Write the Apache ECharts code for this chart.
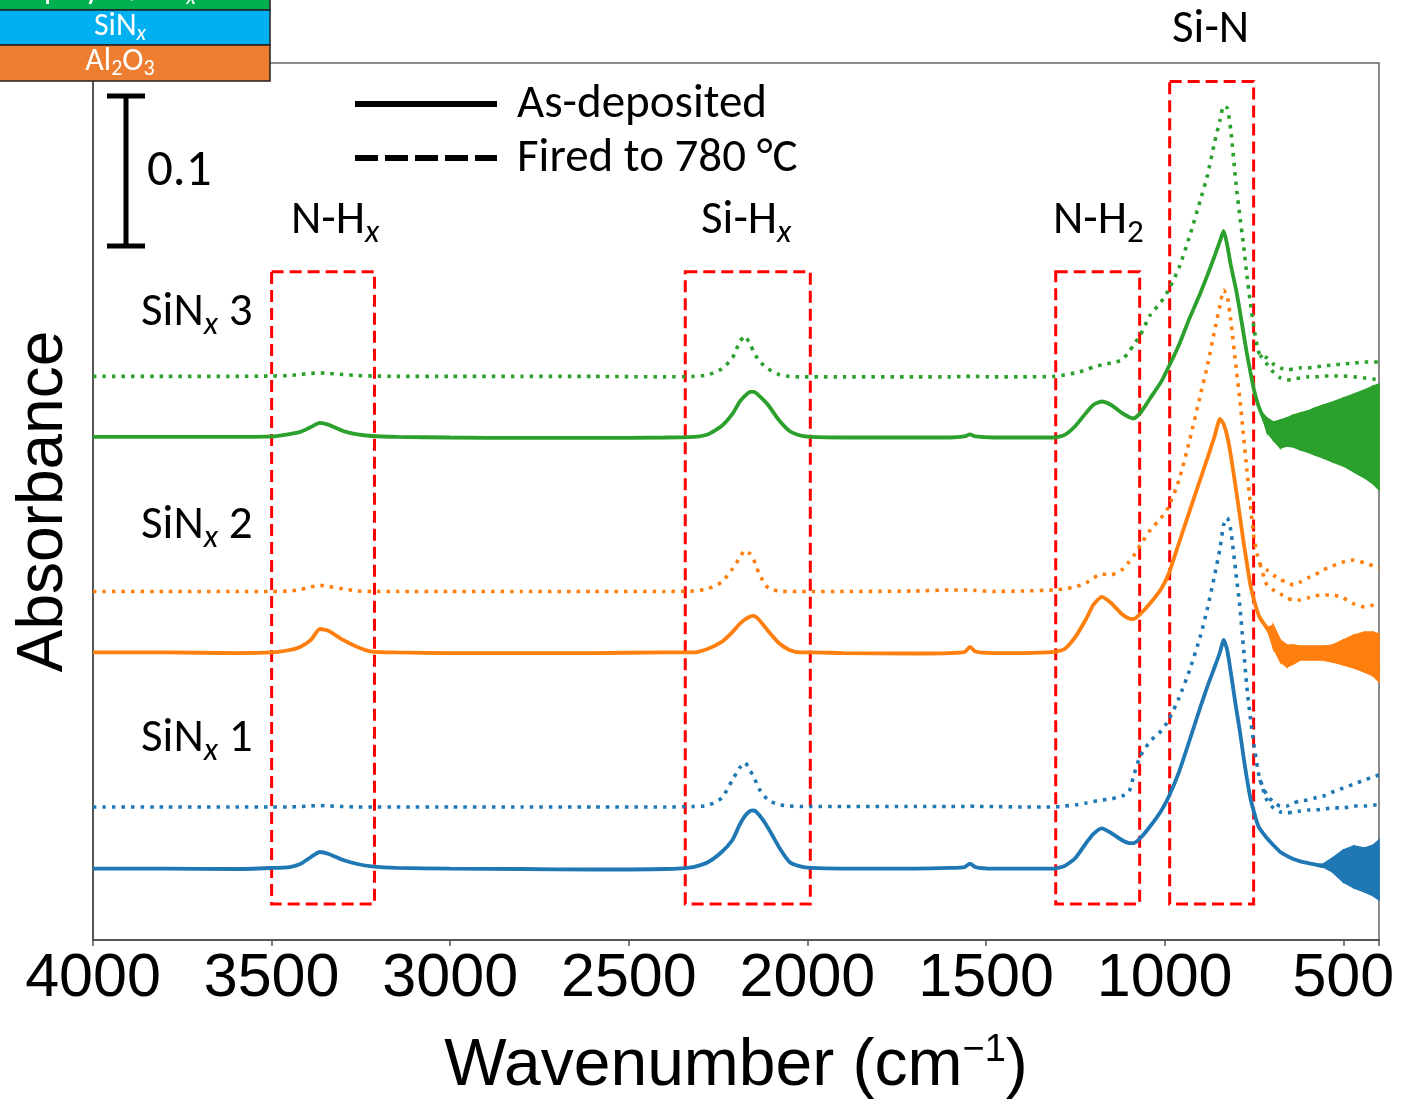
<!DOCTYPE html>
<html>
<head>
<meta charset="utf-8">
<script src="https://cdn.jsdelivr.net/npm/echarts@6.0.0/dist/echarts.min.js"></script>
<style>
  html, body { margin: 0; padding: 0; background: #fff; }
  #chart { width: 1409px; height: 1110px; }
</style>
</head>
<body>
<div id="chart"></div>
<script>
// wavenumber grid (cm-1), shared by all six spectra
var wavenumbers = [4000, 3800, 3600, 3500, 3450, 3420, 3390, 3365, 3340, 3300,
  3260, 3220, 3150, 3000, 2800, 2600, 2400, 2320, 2280, 2240,
  2210, 2190, 2175, 2160, 2150, 2135, 2110, 2080, 2050, 2020,
  1990, 1900, 1700, 1600, 1560, 1545, 1530, 1480, 1400, 1310,
  1280, 1250, 1220, 1200, 1176, 1150, 1120, 1100, 1087, 1068,
  1040, 1010, 989, 960, 930, 900, 880, 860, 845, 835,
  825, 815, 800, 790, 780, 770, 760, 750, 740, 733,
  714, 696, 676, 658, 640, 620, 600, 580, 556, 530,
  500, 470, 440, 416, 400];

// SiNx 1 (blue)
var sin1AsDep = [0.0470, 0.0470, 0.0467, 0.0474, 0.0480, 0.0500, 0.0546, 0.0579, 0.0566, 0.0526,
  0.0500, 0.0484, 0.0474, 0.0470, 0.0467, 0.0464, 0.0467, 0.0480, 0.0510, 0.0579,
  0.0658, 0.0757, 0.0816, 0.0849, 0.0852, 0.0822, 0.0737, 0.0612, 0.0513, 0.0484,
  0.0474, 0.0470, 0.0470, 0.0474, 0.0480, 0.0503, 0.0480, 0.0470, 0.0470, 0.0470,
  0.0487, 0.0540, 0.0638, 0.0697, 0.0734, 0.0704, 0.0658, 0.0638, 0.0638, 0.0671,
  0.0750, 0.0849, 0.0941, 0.1105, 0.1316, 0.1533, 0.1671, 0.1796, 0.1895, 0.1974,
  0.1908, 0.1763, 0.1527, 0.1382, 0.1217, 0.1066, 0.0934, 0.0842, 0.0763, 0.0730,
  0.0671, 0.0625, 0.0579, 0.0553, 0.0533, 0.0517, 0.0507, 0.0497, 0.0487, 0.0487,
  0.0487, 0.0474, 0.0461, 0.0447, 0.0428];
var sin1Fired = [0.0875, 0.0875, 0.0875, 0.0875, 0.0875, 0.0878, 0.0882, 0.0885, 0.0882, 0.0878,
  0.0875, 0.0875, 0.0875, 0.0875, 0.0875, 0.0875, 0.0875, 0.0878, 0.0885, 0.0934,
  0.1053, 0.1132, 0.1168, 0.1112, 0.1073, 0.0993, 0.0921, 0.0891, 0.0882, 0.0878,
  0.0878, 0.0878, 0.0878, 0.0878, 0.0878, 0.0882, 0.0878, 0.0878, 0.0875, 0.0875,
  0.0882, 0.0888, 0.0901, 0.0911, 0.0921, 0.0928, 0.0947, 0.0974, 0.1079, 0.1211,
  0.1309, 0.1375, 0.1447, 0.1592, 0.1777, 0.2000, 0.2185, 0.2402, 0.2579, 0.2731,
  0.2777, 0.2698, 0.2402, 0.2204, 0.1941, 0.1665, 0.1461, 0.1283, 0.1132, 0.1053,
  0.0954, 0.0908, 0.0882, 0.0882, 0.0901, 0.0915, 0.0921, 0.0934, 0.0947, 0.0974,
  0.1000, 0.1026, 0.1053, 0.1073, 0.1086];

// SiNx 2 (orange)
var sin2AsDep = [0.1892, 0.1892, 0.1888, 0.1892, 0.1908, 0.1928, 0.1974, 0.2046, 0.2033, 0.1974,
  0.1928, 0.1898, 0.1892, 0.1888, 0.1888, 0.1888, 0.1892, 0.1892, 0.1915, 0.1961,
  0.2026, 0.2079, 0.2109, 0.2129, 0.2132, 0.2105, 0.2033, 0.1954, 0.1908, 0.1892,
  0.1892, 0.1888, 0.1885, 0.1888, 0.1895, 0.1928, 0.1898, 0.1888, 0.1888, 0.1895,
  0.1915, 0.1994, 0.2112, 0.2204, 0.2257, 0.2217, 0.2145, 0.2115, 0.2112, 0.2145,
  0.2217, 0.2310, 0.2408, 0.2612, 0.2823, 0.3033, 0.3172, 0.3316, 0.3428, 0.3395,
  0.3316, 0.3191, 0.2961, 0.2797, 0.2632, 0.2481, 0.2336, 0.2237, 0.2158, 0.2119,
  0.2053, 0.1987, 0.1935, 0.1908, 0.1895, 0.1888, 0.1888, 0.1895, 0.1902, 0.1908,
  0.1908, 0.1895, 0.1875, 0.1842, 0.1777];
var sin2Fired = [0.2293, 0.2293, 0.2293, 0.2293, 0.2296, 0.2306, 0.2323, 0.2333, 0.2326, 0.2310,
  0.2296, 0.2293, 0.2293, 0.2293, 0.2293, 0.2293, 0.2293, 0.2296, 0.2310, 0.2355,
  0.2441, 0.2513, 0.2563, 0.2539, 0.2500, 0.2408, 0.2316, 0.2296, 0.2293, 0.2293,
  0.2293, 0.2293, 0.2296, 0.2303, 0.2303, 0.2303, 0.2300, 0.2293, 0.2296, 0.2303,
  0.2310, 0.2323, 0.2349, 0.2382, 0.2408, 0.2402, 0.2435, 0.2487, 0.2527, 0.2599,
  0.2698, 0.2777, 0.2849, 0.3026, 0.3289, 0.3586, 0.3783, 0.4013, 0.4178, 0.4276,
  0.4237, 0.4079, 0.3764, 0.3566, 0.3336, 0.3093, 0.2862, 0.2645, 0.2527, 0.2474,
  0.2435, 0.2402, 0.2369, 0.2356, 0.2336, 0.2356, 0.2382, 0.2402, 0.2435, 0.2461,
  0.2487, 0.2500, 0.2481, 0.2461, 0.2448];

// SiNx 3 (green)
var sin3AsDep = [0.3310, 0.3310, 0.3310, 0.3313, 0.3329, 0.3343, 0.3375, 0.3402, 0.3389, 0.3349,
  0.3326, 0.3316, 0.3310, 0.3306, 0.3303, 0.3303, 0.3306, 0.3310, 0.3326, 0.3382,
  0.3461, 0.3540, 0.3580, 0.3606, 0.3606, 0.3580, 0.3520, 0.3421, 0.3349, 0.3319,
  0.3310, 0.3306, 0.3306, 0.3306, 0.3313, 0.3326, 0.3313, 0.3306, 0.3306, 0.3306,
  0.3323, 0.3382, 0.3468, 0.3520, 0.3543, 0.3520, 0.3468, 0.3441, 0.3431, 0.3468,
  0.3566, 0.3672, 0.3770, 0.3915, 0.4093, 0.4257, 0.4376, 0.4501, 0.4599, 0.4665,
  0.4573, 0.4442, 0.4277, 0.4145, 0.4001, 0.3862, 0.3737, 0.3619, 0.3533, 0.3487,
  0.3389, 0.3349, 0.3329, 0.3343, 0.3349, 0.3349, 0.3349, 0.3349, 0.3349, 0.3343,
  0.3343, 0.3336, 0.3329, 0.3323, 0.3310];
var sin3Fired = [0.3708, 0.3708, 0.3708, 0.3711, 0.3714, 0.3721, 0.3728, 0.3731, 0.3728, 0.3721,
  0.3714, 0.3711, 0.3708, 0.3708, 0.3708, 0.3708, 0.3705, 0.3708, 0.3718, 0.3757,
  0.3829, 0.3934, 0.3974, 0.3915, 0.3869, 0.3809, 0.3757, 0.3721, 0.3708, 0.3705,
  0.3705, 0.3705, 0.3705, 0.3705, 0.3708, 0.3708, 0.3708, 0.3705, 0.3705, 0.3708,
  0.3718, 0.3731, 0.3751, 0.3770, 0.3783, 0.3797, 0.3816, 0.3869, 0.3915, 0.3981,
  0.4113, 0.4198, 0.4277, 0.4422, 0.4632, 0.4869, 0.5033, 0.5251, 0.5396, 0.5488,
  0.5474, 0.5330, 0.4968, 0.4770, 0.4586, 0.4376, 0.4191, 0.4027, 0.3895, 0.3849,
  0.3830, 0.3790, 0.3764, 0.3751, 0.3757, 0.3764, 0.3764, 0.3770, 0.3777, 0.3783,
  0.3790, 0.3796, 0.3803, 0.3803, 0.3803];

// low-wavenumber noisy tail: envelopes of the as-deposited noise, second strand of the fired traces
var tailWn = [733, 714, 696, 676, 658, 640, 620, 600, 580, 556, 530, 500, 470, 440, 416, 400];
var sin1NoiseHi = [0.0730, 0.0671, 0.0625, 0.0579, 0.0553, 0.0533, 0.0517, 0.0507, 0.0497, 0.0500, 0.0540, 0.0592, 0.0619, 0.0605, 0.0625, 0.0658];
var sin1NoiseLo = [0.0730, 0.0671, 0.0625, 0.0579, 0.0553, 0.0533, 0.0517, 0.0507, 0.0497, 0.0480, 0.0447, 0.0382, 0.0342, 0.0316, 0.0290, 0.0263];
var sin2NoiseHi = [0.2119, 0.2053, 0.2072, 0.1974, 0.1941, 0.1941, 0.1934, 0.1934, 0.1934, 0.1934, 0.1941, 0.1974, 0.2007, 0.2026, 0.2026, 0.2013];
var sin2NoiseLo = [0.2119, 0.2053, 0.1921, 0.1829, 0.1796, 0.1816, 0.1842, 0.1842, 0.1842, 0.1842, 0.1829, 0.1810, 0.1790, 0.1763, 0.1737, 0.1698];
var sin3NoiseHi = [0.3487, 0.3435, 0.3408, 0.3421, 0.3435, 0.3454, 0.3468, 0.3481, 0.3500, 0.3520, 0.3540, 0.3566, 0.3592, 0.3619, 0.3645, 0.3658];
var sin3NoiseLo = [0.3487, 0.3343, 0.3289, 0.3237, 0.3250, 0.3244, 0.3224, 0.3211, 0.3191, 0.3171, 0.3145, 0.3119, 0.3079, 0.3040, 0.3000, 0.2961];
var sin1FiredB = [0.1053, 0.0921, 0.0869, 0.0842, 0.0836, 0.0842, 0.0849, 0.0855, 0.0855, 0.0862, 0.0869, 0.0869, 0.0882, 0.0882, 0.0888, 0.0888];
var sin2FiredB = [0.2474, 0.2336, 0.2303, 0.2277, 0.2250, 0.2237, 0.2237, 0.2250, 0.2264, 0.2270, 0.2270, 0.2250, 0.2211, 0.2191, 0.2204, 0.2211];
var sin3FiredB = [0.3849, 0.3790, 0.3737, 0.3698, 0.3684, 0.3691, 0.3698, 0.3705, 0.3705, 0.3711, 0.3711, 0.3711, 0.3705, 0.3698, 0.3691, 0.3684];

// x tick labels
var tickLabels = [4000, 3500, 3000, 2500, 2000, 1500, 1000, 500];

// highlighted band regions (cm-1 range, absorbance range)
var bandRegions = [
  { name: 'N-Hx',  from: 3500, to: 3212, top: 0.4397, bottom: 0.0237 },
  { name: 'Si-Hx', from: 2342, to: 1992, top: 0.4397, bottom: 0.0237 },
  { name: 'N-H2',  from: 1305, to: 1070, top: 0.4397, bottom: 0.0237 },
  { name: 'Si-N',  from: 986,  to: 751,  top: 0.5648, bottom: 0.0237 }
];

var BLUE = '#1f77b4', ORANGE = '#ff7f0e', GREEN = '#2ca02c';
var TXT = 'Carlito, Lato, "Open Sans", sans-serif';
var AX = '"Liberation Sans", Arial, sans-serif';

function pairs(xs, ys) {
  return xs.map(function (x, i) { return [x, ys[i]]; });
}

function solidLine(name, ys, color) {
  return {
    name: name, type: 'line', data: pairs(wavenumbers, ys),
    showSymbol: false, smooth: 0.2, z: 3,
    lineStyle: { color: color, width: 3.8 }, itemStyle: { color: color }
  };
}

function dottedLine(name, xs, ys, color) {
  return {
    name: name, type: 'line', data: pairs(xs, ys),
    showSymbol: false, smooth: 0.2, z: 3,
    lineStyle: { color: color, width: 3.6, type: [3.5, 6] }, itemStyle: { color: color }
  };
}

// noise envelope drawn as a filled band, one quad per segment
function noiseBand(lo, hi, color) {
  return {
    type: 'custom', z: 2, silent: true,
    data: tailWn.map(function (x, i) { return [x, lo[i], hi[i]]; }),
    encode: { x: 0, y: [1, 2] },
    renderItem: function (params, api) {
      var i = params.dataIndex;
      if (i >= tailWn.length - 1) return;
      var pts = [
        api.coord([tailWn[i], lo[i]]),
        api.coord([tailWn[i], hi[i]]),
        api.coord([tailWn[i + 1], hi[i + 1]]),
        api.coord([tailWn[i + 1], lo[i + 1]])
      ];
      return {
        type: 'polygon', shape: { points: pts },
        style: { fill: color, stroke: color, lineWidth: 1.5 }
      };
    }
  };
}

var series = [
  noiseBand(sin1NoiseLo, sin1NoiseHi, BLUE),
  noiseBand(sin2NoiseLo, sin2NoiseHi, ORANGE),
  noiseBand(sin3NoiseLo, sin3NoiseHi, GREEN),
  solidLine('SiNx 1 as-deposited', sin1AsDep, BLUE),
  dottedLine('SiNx 1 fired', wavenumbers, sin1Fired, BLUE),
  dottedLine('SiNx 1 fired b', tailWn, sin1FiredB, BLUE),
  solidLine('SiNx 2 as-deposited', sin2AsDep, ORANGE),
  dottedLine('SiNx 2 fired', wavenumbers, sin2Fired, ORANGE),
  dottedLine('SiNx 2 fired b', tailWn, sin2FiredB, ORANGE),
  solidLine('SiNx 3 as-deposited', sin3AsDep, GREEN),
  dottedLine('SiNx 3 fired', wavenumbers, sin3Fired, GREEN),
  dottedLine('SiNx 3 fired b', tailWn, sin3FiredB, GREEN)
];

// dashed red boxes
series.push({
  type: 'line', data: [], z: 10, silent: true,
  markArea: {
    silent: true,
    label: { show: false },
    itemStyle: { color: 'rgba(0,0,0,0)', borderColor: '#ff0000', borderWidth: 3, borderType: [12, 6] },
    data: bandRegions.map(function (b) {
      return [{ coord: [b.from, b.top] }, { coord: [b.to, b.bottom] }];
    })
  }
});

function richLabel(x, y, text, size) {
  var fs = size || 47;
  return {
    type: 'text', x: x, y: y, z: 20,
    style: {
      text: text, fill: '#000', fontFamily: TXT, fontSize: fs,
      align: 'left', verticalAlign: 'middle',
      rich: {
        a: { fill: '#000', fontFamily: TXT, fontSize: fs, lineHeight: 58 },
        s: { fill: '#000', fontFamily: TXT, fontSize: 33, fontStyle: 'italic', lineHeight: 33, verticalAlign: 'bottom' },
        n: { fill: '#000', fontFamily: TXT, fontSize: 33, lineHeight: 33, verticalAlign: 'bottom' }
      }
    }
  };
}

function layerText(cx, cy, text) {
  return {
    type: 'text', x: cx, y: cy, z: 21,
    style: {
      text: text, fill: '#fff', fontFamily: TXT, fontSize: 32,
      align: 'center', verticalAlign: 'middle',
      rich: {
        a: { fill: '#fff', fontFamily: TXT, fontSize: 32, lineHeight: 36 },
        s: { fill: '#fff', fontFamily: TXT, fontSize: 22, fontStyle: 'italic', lineHeight: 22, verticalAlign: 'bottom' },
        n: { fill: '#fff', fontFamily: TXT, fontSize: 22, lineHeight: 22, verticalAlign: 'bottom' }
      }
    }
  };
}

var graphics = [
  // layer stack sketch, top left
  { type: 'rect', shape: { x: -2, y: -30, width: 272, height: 40 }, style: { fill: '#00b050', stroke: '#222', lineWidth: 1.5 }, z: 20 },
  { type: 'rect', shape: { x: -2, y: 10, width: 272, height: 35 }, style: { fill: '#00b0f0', stroke: '#222', lineWidth: 1.5 }, z: 20 },
  { type: 'rect', shape: { x: -2, y: 45, width: 272, height: 36 }, style: { fill: '#ed7d31', stroke: '#222', lineWidth: 1.5 }, z: 20 },
  layerText(120, -9, '{a|poly-Si/SiO}{s|x}'),
  layerText(120, 27, '{a|SiN}{s|x}'),
  layerText(120, 62, '{a|Al}{n|2}{a|O}{n|3}'),
  // 0.1 scale bar
  { type: 'line', shape: { x1: 126, y1: 96, x2: 126, y2: 246 }, style: { stroke: '#000', lineWidth: 5 }, z: 20 },
  { type: 'line', shape: { x1: 107, y1: 96, x2: 145, y2: 96 }, style: { stroke: '#000', lineWidth: 5 }, z: 20 },
  { type: 'line', shape: { x1: 107, y1: 246, x2: 145, y2: 246 }, style: { stroke: '#000', lineWidth: 5 }, z: 20 },
  richLabel(147, 172, '{a|0.1}', 51),
  // legend
  { type: 'line', shape: { x1: 355, y1: 104, x2: 497, y2: 104 }, style: { stroke: '#000', lineWidth: 6 }, z: 20 },
  { type: 'line', shape: { x1: 355, y1: 158, x2: 497, y2: 158 }, style: { stroke: '#000', lineWidth: 6, lineDash: [23, 7] }, z: 20 },
  richLabel(517, 105, '{a|As-deposited}'),
  richLabel(517, 159, '{a|Fired to 780 °C}'),
  // band labels
  richLabel(291, 221, '{a|N-H}{s|x}'),
  richLabel(701, 221, '{a|Si-H}{s|x}'),
  richLabel(1053, 221, '{a|N-H}{n|2}'),
  richLabel(1172, 30, '{a|Si-N}'),
  // sample labels
  richLabel(141, 313, '{a|SiN}{s|x}{a| 3}'),
  richLabel(141, 526, '{a|SiN}{s|x}{a| 2}'),
  richLabel(141, 739, '{a|SiN}{s|x}{a| 1}')
];

var chart = echarts.init(document.getElementById('chart'));
var option = {
  animation: false,
  backgroundColor: '#fff',
  grid: {
    left: 93, right: 30, top: 63, bottom: 170,
    show: true, borderColor: '#666', borderWidth: 1.5,
    outerBoundsMode: 'none'
  },
  xAxis: {
    type: 'value', inverse: true, min: 400, max: 4000, splitNumber: 7,
    axisLine: { show: true, lineStyle: { color: '#555', width: 2 } },
    axisTick: { show: true, length: 6, lineStyle: { color: '#555', width: 1.5 } },
    splitLine: { show: false },
    axisLabel: {
      color: '#000', fontFamily: AX, fontSize: 61, margin: 9,
      formatter: function (v) { return tickLabels.indexOf(v) >= 0 ? String(v) : ''; }
    },
    name: '{b|Wavenumber (cm}{s|−1}{b|)}',
    nameLocation: 'middle', nameGap: 92,
    nameTextStyle: {
      color: '#000', fontFamily: AX, fontSize: 66,
      rich: {
        b: { color: '#000', fontFamily: AX, fontSize: 66, lineHeight: 70 },
        s: { color: '#000', fontFamily: AX, fontSize: 38, lineHeight: 38, verticalAlign: 'top' }
      }
    }
  },
  yAxis: {
    type: 'value', min: 0, max: 0.577,
    axisLine: { show: true, lineStyle: { color: '#555', width: 2 } },
    axisTick: { show: false },
    axisLabel: { show: false },
    splitLine: { show: false },
    name: 'Absorbance', nameLocation: 'middle', nameGap: 17,
    nameTextStyle: { color: '#000', fontFamily: AX, fontSize: 64 }
  },
  graphic: graphics,
  series: series
};
chart.setOption(option);
</script>
</body>
</html>
